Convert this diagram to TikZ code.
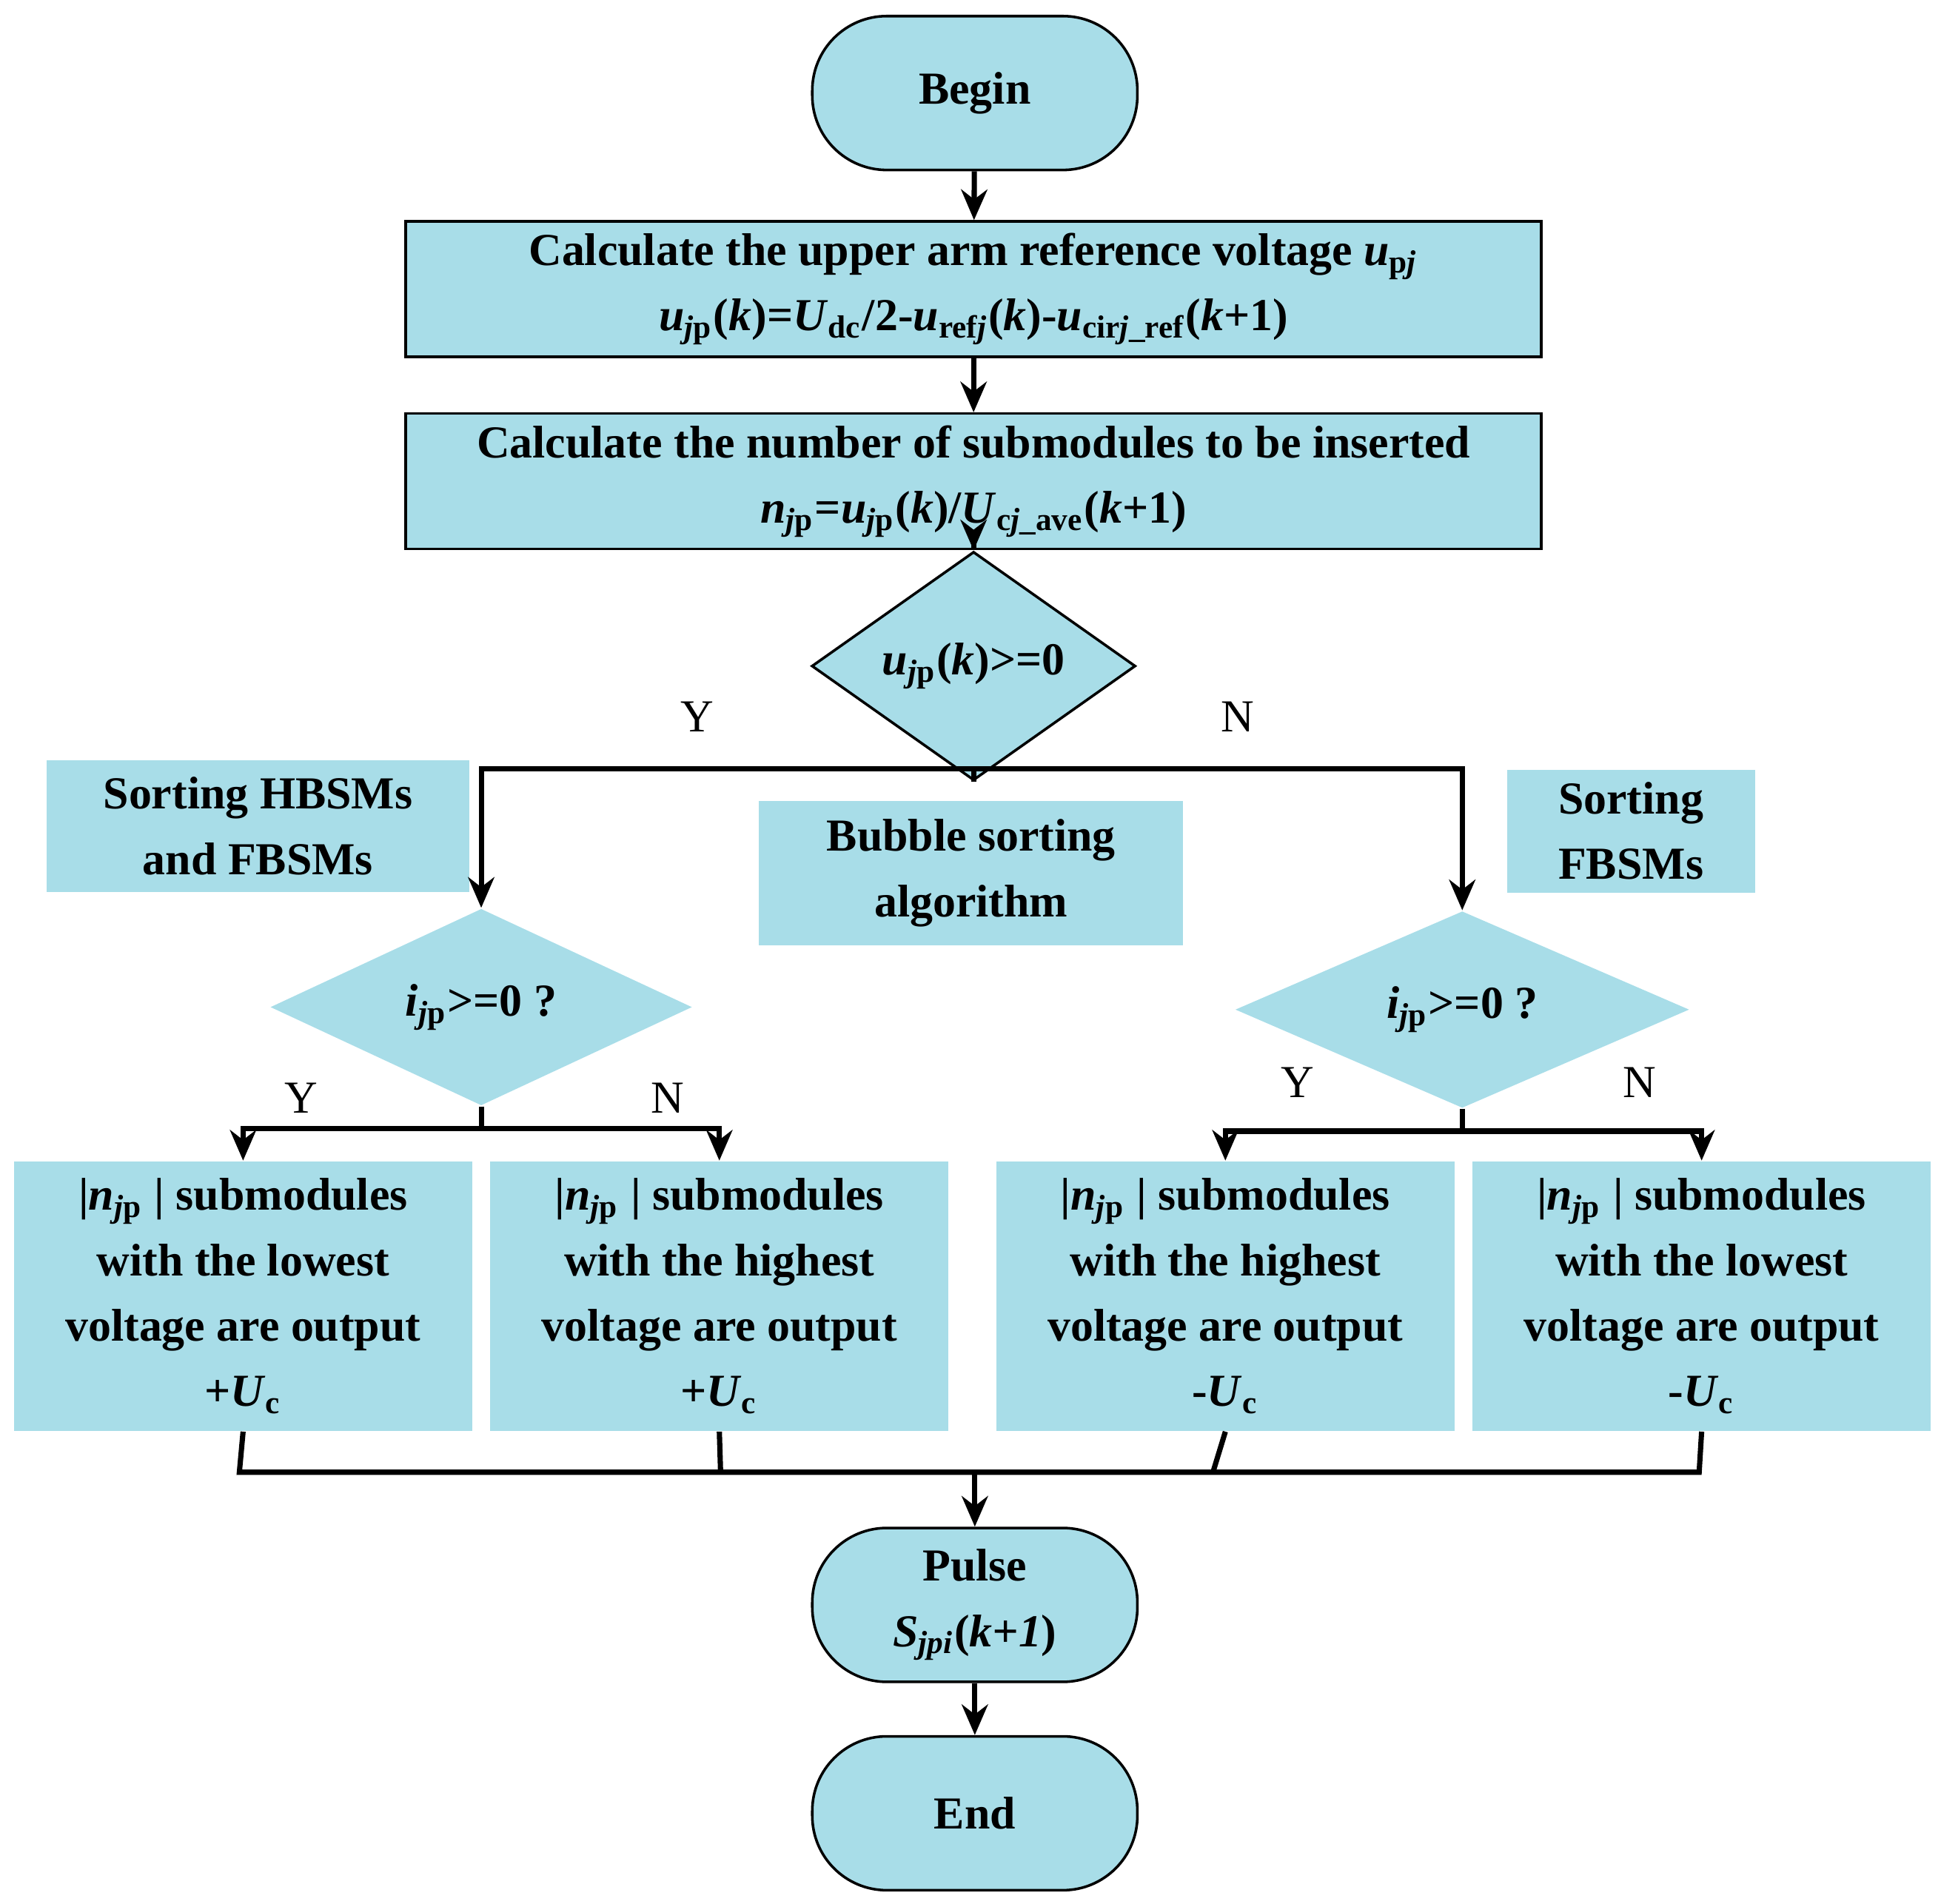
\documentclass[tikz,border=0pt]{standalone}
\usepackage{fontspec}
\setmainfont{Liberation Serif}
\usetikzlibrary{shapes.geometric,arrows.meta}
\definecolor{fc}{HTML}{A8DDE8}
\newcommand\vi[1]{\textit{#1}}
\newcommand\mysb[1]{\textsubscript{#1}}
\begin{document}
\begin{tikzpicture}[x=0.01cm,y=-0.01cm,
  every node/.style={font=\fontsize{10.5}{15}\selectfont\bfseries,align=center,inner sep=0pt},
  box/.style={draw=black,fill=fc,line width=0.6pt,minimum width=9.15cm,minimum height=1.09cm},
  plain/.style={fill=fc,minimum height=#1},
  term/.style={draw=black,fill=fc,rounded corners=0.6cm,minimum width=2.62cm,minimum height=1.24cm,line width=0.6pt},
  lab/.style={font=\fontsize{10.5}{12}\selectfont},
  ln/.style={line width=1.2pt},
  ar/.style={line width=1.2pt,-{Stealth[length=7pt,width=6pt]}}]
\useasboundingbox (0,0) rectangle (1565,1535);
\node[term] (begin) at (786,75) {Begin};
\node[box] (b1) at (785,233) {Calculate the upper arm reference voltage \vi{u}\mysb{p\vi{j}}\\
\vi{u}\mysb{\vi{j}p}(\vi{k})=\vi{U}\mysb{dc}/2-\vi{u}\mysb{ref\vi{j}}(\vi{k})-\vi{u}\mysb{cir\vi{j}\_ref}(\vi{k}+1)};
\node[box] (b2) at (785,388) {Calculate the number of submodules to be inserted\\
\vi{n}\mysb{\vi{j}p}=\vi{u}\mysb{\vi{j}p}(\vi{k})/\vi{U}\mysb{c\vi{j}\_ave}(\vi{k}+1)};
\node[diamond,fill=fc,draw=black,line width=0.6pt,minimum width=2.61cm,minimum height=1.19cm,inner sep=0pt] (d1) at (785,537) {\vi{u}\mysb{\vi{j}p}(\vi{k})>=0};
\node[lab] at (562,578) {Y};
\node[lab] at (998,578) {N};
\node[plain=1.06cm,minimum width=3.41cm] (s1) at (208,666) {Sorting HBSMs\\and FBSMs};
\node[plain=1.16cm,minimum width=3.42cm] (s2) at (783,704) {Bubble sorting\\algorithm};
\node[plain=0.99cm,minimum width=2.0cm] (s3) at (1315,670) {Sorting\\FBSMs};
\node[diamond,fill=fc,minimum width=3.4cm,minimum height=1.44cm] (d2) at (388,812) {\vi{i}\mysb{\vi{j}p}>=0 ?};
\node[diamond,fill=fc,minimum width=3.66cm,minimum height=1.47cm] (d3) at (1179,814) {\vi{i}\mysb{\vi{j}p}>=0 ?};
\node[lab] at (243,885) {Y};
\node[lab] at (538,885) {N};
\node[lab] at (1046,873) {Y};
\node[lab] at (1322,873) {N};
\foreach \n/\x/\t/\s in {o1/196/lowest/+,o2/580/highest/+,o3/988/highest/-,o4/1372/lowest/-}{
  \node[plain=2.17cm,minimum width=3.69cm] (\n) at (\x,1045) {|\vi{n}\mysb{\vi{j}p} | submodules\\with the \t\\voltage are output\\\s\vi{U}\mysb{c}};
}
\node[term] (pulse) at (786,1294) {Pulse\\\vi{S}\mysb{\vi{jpi}}(\vi{k+1})};
\node[term] (end) at (786,1462) {End};
\draw[ar] (begin) -- (b1);
\draw[ar] (b1) -- (b2);
\draw[ar] (b2) -- (d1);
\coordinate (j1) at (785,620);
\draw[ln] (d1.south) -- (j1);
\draw[ar] (j1) -| (d2.north);
\draw[ar] (j1) -| (d3.north);
\coordinate (j2) at (388,910);
\draw[ln] (d2.south) -- (j2);
\draw[ar] (j2) -| (o1.north);
\draw[ar] (j2) -| (o2.north);
\coordinate (j3) at (1179,912);
\draw[ln] (d3.south) -- (j3);
\draw[ar] (j3) -| (o3.north);
\draw[ar] (j3) -| (o4.north);
\coordinate (m) at (786,1187);
\draw[ln] (o1.south) -- (193,1187) -- (1370,1187) -- (o4.south);
\draw[ln] (o2.south) -- (581,1187);
\draw[ln] (o3.south) -- (978,1187);
\draw[ar] (m) -- (pulse);
\draw[ar] (pulse) -- (end);
\end{tikzpicture}
\end{document}
